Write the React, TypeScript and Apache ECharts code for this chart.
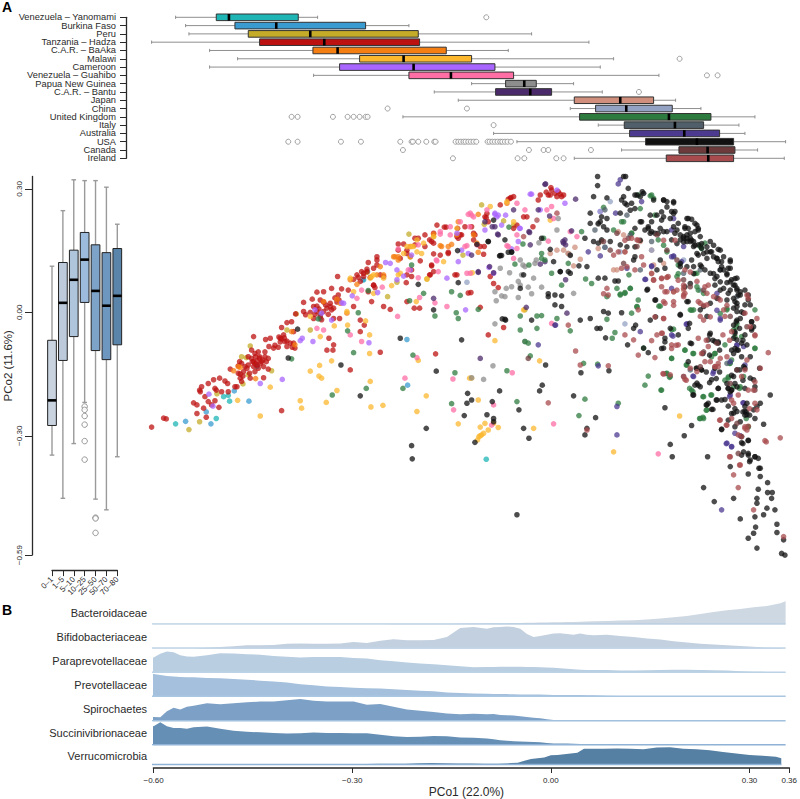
import React, { useEffect, useRef } from "react";
import * as echarts from "echarts";

// ---- Panel A, top: PCo1 by population: [low whisker, Q1, median, Q3, high whisker]
const populations = ["Venezuela – Yanomami","Burkina Faso","Peru","Tanzania – Hadza","C.A.R. – BaAka","Malawi","Cameroon","Venezuela – Guahibo","Papua New Guinea","C.A.R. – Bantu","Japan","China","United Kingdom","Italy","Australia","USA","Canada","Ireland"];
const popColors = ["#1fb5b5","#3a9bd0","#c4ab28","#bd1111","#f57e12","#fbb72e","#a965ff","#ff6ea5","#8d8d8d","#4b2a6b","#cf8f7c","#93a1c3","#2e7b3f","#505f6a","#4c3a90","#111111","#6d3a3c","#a84b4e"];
const popBoxes = [
  [-0.567,-0.506,-0.487,-0.383,-0.354],
  [-0.552,-0.478,-0.416,-0.282,-0.217],
  [-0.547,-0.458,-0.365,-0.203,-0.033],
  [-0.603,-0.441,-0.344,-0.201,0.053],
  [-0.516,-0.361,-0.324,-0.161,-0.068],
  [-0.474,-0.291,-0.225,-0.123,0.090],
  [-0.516,-0.321,-0.210,-0.088,0.070],
  [-0.360,-0.217,-0.154,-0.060,0.158],
  [-0.123,-0.072,-0.044,-0.026,0.030],
  [-0.179,-0.087,-0.035,-0.003,0.073],
  [-0.143,0.031,0.100,0.150,0.183],
  [0.025,0.063,0.109,0.178,0.221],
  [-0.226,0.039,0.173,0.236,0.302],
  [0.067,0.106,0.182,0.225,0.278],
  [-0.090,0.114,0.196,0.249,0.287],
  [-0.055,0.138,0.215,0.270,0.348],
  [0.102,0.188,0.231,0.272,0.306],
  [0.031,0.169,0.232,0.270,0.346],
];
const popOutliers = [
  [-0.101],[],[],[],[],[0.189],[],[0.230,0.246],[],[0.128],[],
  [-0.249,-0.130],
  [-0.393,-0.384,-0.331,-0.309,-0.300,-0.291,-0.282,-0.279],
  [-0.090],[],
  [-0.398,-0.384,-0.319,-0.289,-0.230,-0.213,-0.211,-0.203,-0.191,-0.179,-0.177,-0.147,-0.143,-0.139,-0.135,-0.132,-0.128,-0.124,-0.120,-0.116,-0.099,-0.096,-0.092,-0.088,-0.084,-0.080,-0.077,-0.073,-0.069,-0.064],
  [-0.226,-0.037,-0.015,-0.008,0.056],
  [-0.151,-0.054,-0.044,0.004,0.015],
];

// ---- Panel A, left: PCo2 by age
const ages = ["0–1","1–5","5–10","10–25","25–50","50–70","70–80"];
const ageColors = ["#c8d3df","#bccadb","#aec5dc","#9dbbdc","#7ea3c9","#6e97c0","#5a84a9"];
const ageBoxes = [
  [-0.347,-0.275,-0.214,-0.068,0.112],
  [-0.452,-0.117,0.023,0.121,0.247],
  [-0.319,-0.059,0.079,0.151,0.322],
  [-0.219,0.024,0.128,0.194,0.320],
  [-0.454,-0.093,0.052,0.164,0.320],
  [-0.480,-0.115,0.016,0.145,0.304],
  [-0.351,-0.079,0.040,0.155,0.214],
];
const ageOutliers = [[],[],[],[-0.229,-0.237,-0.252,-0.273,-0.313,-0.358],[-0.499,-0.501,-0.536],[],[]];
const yTicks = [-0.59,-0.3,0,0.3];

// ---- Panel A, centre: PCo1, PCo2 of each sample, in thousandths
const ptsYanomami = [[-567,-271],[-506,-258],[-486,-216],[-495,-205],[-488,-202],[-445,-132],[-350,-15],[-285,79],[-101,-357]];
const ptsBurkina = [[-552,-265],[-514,-271],[-521,-242],[-479,-191],[-457,-216],[-279,99],[-286,79],[-220,-66],[-219,-177],[-445,-130],[-350,-6]];
const ptsPeru = [[-547,-285],[-531,-266],[-505,-198],[-455,-82],[-468,-108],[-461,-110],[-466,-174],[-458,-152],[-423,-142],[-217,190],[-136,139],[-190,81],[-235,73],[-249,38],[-386,-4],[-400,-43],[-365,-43],[-280,97],[-215,135],[-180,184],[-108,261],[-75,222],[-60,212],[-104,214],[-43,6]];
const ptsHadza = [[-603,-279],[-585,-257],[-581,-259],[-540,-220],[-535,-225],[-525,-233],[-535,-246],[-521,-255],[-502,-231],[-508,-215],[-523,-205],[-518,-217],[-513,-225],[-531,-189],[-528,-181],[-530,-193],[-508,-185],[-506,-189],[-518,-173],[-510,-164],[-501,-160],[-493,-167],[-489,-173],[-498,-193],[-488,-193],[-478,-181],[-475,-181],[-485,-138],[-473,-148],[-470,-160],[-468,-168],[-471,-120],[-465,-144],[-460,-136],[-456,-148],[-448,-100],[-443,-96],[-433,-96],[-428,-112],[-450,-120],[-445,-128],[-438,-120],[-458,-128],[-453,-112],[-435,-132],[-441,-108],[-448,-144],[-435,-159],[-428,-138],[-450,-59],[-432,-66],[-425,-63],[-408,-239],[-413,-85],[-427,-83],[-420,-87],[-410,-63],[-405,-55],[-408,-37],[-400,-25],[-393,-23],[-390,-47],[-403,-71],[-400,-83],[-388,-87],[-390,-75],[-387,-4],[-375,24],[-362,32],[-355,49],[-345,50],[-324,87],[-375,2],[-372,-6],[-360,14],[-355,2],[-350,30],[-340,10],[-335,14],[-333,6],[-330,-15],[-321,-15],[-323,42],[-333,58],[-318,57],[-308,54],[-300,14],[-290,-19],[-284,-31],[-290,-47],[-337,-63],[-330,-79],[-340,-92],[-331,-92],[-260,-97],[-305,-140],[-177,-101],[-295,91],[-288,99],[-278,121],[-265,135],[-265,127],[-270,66],[-268,60],[-273,26],[-255,14],[-245,7],[-233,166],[-225,166],[-230,131],[-220,151],[-208,180],[-203,180],[-193,188],[-180,192],[-186,176],[-180,168],[-180,142],[-200,125],[-213,87],[-221,72],[-220,26],[-209,10],[-201,10],[-183,113],[-186,91],[-180,99],[-164,207],[-161,207],[-158,146],[-148,91],[-144,204],[-133,208],[-145,184],[-138,188],[-128,47],
  [-468,-124],[-463,-132],[-458,-108],[-453,-92],[-447,-108],[-441,-112],[-433,-108],[-431,-120],[-443,-136],[-450,-132],[-455,-160],[-473,-130],[-466,-155],[-470,-150],[-445,-118],[-440,-125],[-436,-116],[-448,-125],[-452,-120],
  [-365,0],[-358,-5],[-352,8],[-350,-10],[-345,2],[-342,18],[-338,-5],[-335,22],[-330,10],[-325,25],[-345,25],[-355,15],[-348,-18],[-360,-15],[-328,35],[-322,30],
  [-412,-60],[-408,-65],[-404,-62],[-410,-72],[-400,-70],[-395,-75],[-392,-85],[-418,-80],[-300,80],[-293,85],[-290,75],[-285,95],[-280,105],[-275,85],
  [-110,160],[-104,160],[-105,141],[-124,48],[-110,12],[-95,87],[-90,70],[-83,60],[-123,208],[-118,188],[-140,188],[-68,275],[-64,279],[-80,261],[-100,240],[-101,230],[-31,208],[-23,273],[-8,285],[-3,297],[-4,303],[5,281],[10,287],[15,285],[-11,292],[2,289],[-75,-37],[-98,-55],[-45,232],[-40,232],[-55,212],[-60,204],[-175,212],
  [-233,151],[-220,143],[-208,164],[-193,160],[-183,172],[-170,139],[-158,143],[-143,180],[-120,192],[-103,232],[-98,220],[-120,176],[-260,91],[-255,87],[-270,107],[-265,115],[-285,87],[-280,99],[-270,66],[-278,50],[-220,91],[-213,103],[-183,115],[-185,91],[-145,91],[-65,277],[-60,281],[-20,285],[-5,285],[7,293],[12,281]];
const ptsBaAka = [[-480,-142],[-470,-134],[-447,-161],[-345,26],[-325,32],[-295,68],[-305,79],[-255,91],[-168,160],[-143,220],[-388,-79],[-393,-47],[-310,-2],[-473,-132],[-320,22],[-233,135],[-240,135],[-158,160],[-153,165],[-180,190],[-260,111],[-215,135],[-113,238],[-70,265],[-115,168],[-120,188],[-113,146],[-238,135],[-233,127],[-215,160],[-170,162],[-145,188],[-265,91]];
const ptsMalawi = [[-474,-214],[-440,-252],[-425,-182],[-380,-215],[-378,-233],[-341,-219],[-325,-190],[-365,-143],[-351,-129],[-333,-118],[-352,-155],[-348,-160],[-275,-168],[-274,-230],[-256,-226],[-191,-203],[-205,-241],[-143,-271],[-276,-55],[-276,-100],[-203,-117],[-350,-59],[-329,-33],[-309,-31],[-282,-21],[-206,26],[-165,123],[-255,83],[-243,65],[-275,83],[-270,91],[-305,83],[-300,50],[-270,46],[-365,-10],[-310,2],[-233,91],[-230,95],[-225,143],[-210,160],[-205,176],[-198,143],[-195,168],[-180,184],[-126,-160],[-110,-279],[-103,-270],[-98,-286],[-83,-280],[-105,-294],[-110,-300],[-114,-310],[-108,-298],[-112,-302],[-90,-270],[-113,-213],[-123,-160],[-30,-282],[90,-339],[189,-252],[-21,-118],[-88,-69],[-122,96],[-95,257],[-70,269],[-5,224],[-60,220],[-45,6],[-145,204],[-273,87],[-213,160],[-205,147],[-220,160],[-190,81]];
const ptsCameroon = [[-511,-228],[-517,-199],[-440,-173],[-407,-163],[-277,-74],[-361,-71],[-380,-69],[-377,-63],[-358,6],[-348,-2],[-333,-19],[-318,23],[-315,22],[-235,79],[-225,88],[-264,48],[-302,40],[-252,121],[-245,119],[-235,103],[-215,103],[-160,83],[-132,6],[-143,123],[-138,151],[-128,143],[-145,192],[-88,238],[-83,236],[-103,200],[-78,212],[-72,236],[-50,204],[-63,154],[-53,172],[-97,109],[-90,95],[-33,287],[-20,249],[5,297],[17,265],[-35,287],[-51,204],[-88,241],[-85,232],[70,245],[-213,139]];
const ptsGuahibo = [[-288,-71],[-305,-55],[-234,-10],[-223,-160],[-151,-162],[-150,-237],[-205,-110],[-201,36],[-178,23],[-160,14],[-203,84],[-257,61],[-233,154],[-218,103],[-173,99],[-175,125],[-130,95],[-128,238],[-140,220],[-155,208],[-170,190],[-288,54],[-295,34],[-355,-39],[-345,-43],[-125,241],[-120,232],[-55,265],[-43,249],[-130,162],[-125,95],[-70,162],[-60,131],[-115,164],[-3,-27],[0,228],[-10,249],[-62,-147],[-90,-225],[-93,-274],[0,-271],[157,-344],[-68,160],[-55,155],[-8,173],[35,184],[25,196],[-203,164],[-170,196],[-155,188],[-133,160],[-123,236],[-100,249],[-126,208],[-55,188],[-3,257],[-176,127]];
const ptsPNG = [[-46,115],[-28,119],[-26,127],[-53,75],[-48,91],[-50,66],[-63,62],[-71,58],[-73,38],[-78,40],[-86,28],[-53,36],[-66,96],[-80,107],[-38,61],[-33,45],[-18,61],[30,46],[5,200],[-22,169],[22,143],[7,228],[-88,-28],[-91,-130],[-123,-159],[-105,-163],[-43,-71],[25,138],[-50,127],[-43,111],[-30,83],[-88,50],[67,214]];
const ptsBantu = [[-12,312],[-110,-112],[33,275],[17,176],[15,168],[27,198],[18,79],[-23,249],[-37,196],[-96,111],[-83,188],[-113,99],[-103,220],[-88,208],[-123,139],[-35,164],[-41,12],[20,-2],[2,-31],[-180,34],[-84,190],[-13,311],[-92,208],[-60,249],[-36,194],[-6,234],[-113,97],[-90,96],[-20,117],[-13,123],[14,172],[18,164]];
const ptsJapan = [[147,95],[170,85],[180,50],[195,54],[40,129],[30,113],[32,158],[15,151],[5,151],[-5,143],[72,172],[105,188],[97,196],[130,172],[67,155],[90,103],[22,143],[147,151],[165,119],[150,115],[107,147],[95,103]];
const ptsChina = [[107,-28],[77,158],[147,151],[195,127],[135,289],[220,54],[100,147],[70,245],[85,269],[-130,73]];
const ptsUK = [[-332,-201],[-300,-98],[-393,-113],[-293,-1],[-309,-45],[-278,53],[-216,28],[-195,46],[-211,-104],[-281,-185],[-226,-185],[-178,-9],[-146,-1],[-143,-15],[-153,50],[-140,41],[-148,-147],[-153,-222],[-353,-16],[-213,115],[-113,7],[-67,207],[-46,166],[-58,117],[-37,115],[-18,143],[-15,180],[-3,95],[12,66],[-18,131],[-13,127],[22,119],[42,196],[48,81],[57,70],[80,38],[95,58],[100,44],[107,48],[115,58],[125,14],[117,-2],[80,-17],[5,-15],[-18,-8],[-25,-9],[-50,-9],[-50,-43],[-25,-39],[-43,-71],[-38,-75],[-35,-106],[-70,-142],[25,-45],[92,-49],[88,-63],[45,-124],[66,-126],[-55,-217],[47,-211],[38,-251],[97,-221],[142,-155],[137,-177],[161,-189],[170,-148],[175,-156],[75,255],[90,200],[105,220],[117,192],[127,285],[145,283],[150,277],[113,91],[158,15],[135,-87],[177,-112],[180,-41],[197,-92],[210,-100],[200,-128],[207,-189],[225,-205],[237,-201],[230,-237],[220,-258],[225,-258],[257,-79],[242,-100],[215,95],[205,6],[210,6],[225,46],[260,6],[275,-27],[282,-59],[302,6],[302,-87],[265,-124],[262,-160],[270,-181],[280,-181],[292,-278],[185,87],[190,119],[157,176],[220,160],[227,168],[270,-43],[285,-156],
  [102,220],[117,192],[130,252],[147,285],[165,163],[170,147],[187,115],[187,94],[222,155],[220,163],[212,94],[217,54],[115,58],[107,46],[100,42],[127,30],[125,13],[160,15],[207,5],[152,236],[250,-3],[260,9],[215,62],
  [177,-42],[197,-92],[209,-100],[177,-112],[199,-128],[169,-149],[174,-158],[162,-189],[204,-185],[209,-193],[224,-205],[236,-201],[229,-238],[219,-258],[224,-255],[274,-35],[272,-59],[242,-100],[237,-108],[264,-124],[267,-116],[262,-157],[257,-165],[279,-185],[302,-88],[292,-278],[289,-258]];
const ptsItaly = [[77,158],[110,236],[147,172],[180,135],[195,95],[220,103],[250,103],[275,38],[195,-156],[205,-140],[260,-124],[130,103],[62,200],[77,249],[115,188]];
const ptsAustralia = [[210,-156],[265,-201],[285,-220],[272,-294],[280,-300],[260,-318],[267,-326],[252,-480],[95,-298],[95,-229],[-23,-79],[3,-31],[67,-130],[130,-47],[138,80],[147,113],[200,-28],[240,-144],[265,-120],[250,-19],[275,-79],[180,228],[132,269],[110,107],[195,160],[180,137],[52,147],[70,137],[93,241],[100,322],[97,312],[177,-55],[285,-83],[245,46],[147,111],[137,80],[177,200],[177,58],[192,123],[177,135],[245,5],[250,-15],[209,-155],[199,-29],[179,-58],[275,-80],[264,-205],[284,-220],[259,-319],[267,-327],[239,-149],[287,-128]];
const ptsUSA = [[66,330],[66,308],[60,281],[80,278],[105,330],[108,330],[105,281],[112,301],[122,285],[107,265],[117,265],[130,281],[133,293],[165,273],[170,269],[180,266],[177,245],[182,245],[200,228],[207,226],[202,204],[215,212],[197,208],[212,196],[217,200],[55,241],[72,232],[70,220],[80,228],[100,241],[75,208],[80,200],[55,216],[67,216],[47,180],[60,172],[72,176],[67,168],[85,172],[100,164],[122,204],[132,220],[147,220],[142,204],[145,192],[152,192],[160,204],[165,196],[162,224],[180,208],[185,200],[177,176],[190,176],[195,184],[200,172],[205,172],[210,160],[215,143],[225,143],[235,172],[237,147],[247,153],[245,131],[255,135],[252,111],[265,127],[265,107],[275,83],[270,66],[260,72],[275,58],[280,50],[262,46],[250,54],[242,66],[245,87],[235,95],[222,111],[210,111],[200,111],[190,111],[275,22],[270,10],[292,30],[295,18],[297,-23],[300,-35],[297,-43],[285,-2],[275,-19],[270,-31],[272,-51],[275,-67],[275,-92],[270,-100],[290,-79],[295,-108],[275,-140],[270,-156],[262,-185],[265,-193],[275,-181],[300,-164],[290,-221],[287,-241],[290,-249],[305,-229],[310,-221],[300,-237],[302,-258],[315,-272],[325,-201],[275,-241],[270,-245],[280,-266],[272,-278],[252,-284],[245,-213],[237,-236],[230,-225],[210,-201],[167,-232],[207,-275],[196,-300],[175,-321],[178,-351],[231,-351],[282,-317],[292,-312],[285,-339],[292,-347],[295,-359],[302,-351],[308,-379],[310,-399],[292,-393],[321,-414],[321,-438],[328,-438],[307,-430],[225,-426],[241,-460],[270,-452],[280,-502],[305,-452],[305,-464],[302,-497],[315,-492],[320,-476],[327,-452],[332,-480],[335,-515],[303,-522],[300,-537],[292,-549],[305,-573],[335,-535],[345,-553],[342,-586],[347,-590],
  [-81,137],[-78,138],[-98,172],[-73,176],[-63,147],[-18,180],[-5,153],[0,123],[25,95],[22,99],[10,99],[2,42],[12,40],[-8,38],[2,18],[12,14],[-8,45],[-33,-19],[-73,-17],[-77,-16],[40,-19],[55,-15],[70,-39],[65,-39],[78,-62],[75,2],[82,-2],[102,-1],[120,-39],[123,-31],[111,-79],[135,-87],[142,-98],[165,-87],[175,-39],[153,-11],[145,-19],[167,-63],[190,-5],[205,-75],[202,-120],[215,-136],[222,-140],[215,-172],[220,-181],[237,-164],[247,-185],[205,70],[200,26],[220,6],[230,-10],[242,-71],[247,-75],[235,-51],[232,-67],[153,30],[140,54],[97,76],[92,76],[77,83],[67,83],[50,111],[38,113],[25,139],[41,-147],[83,-142],[-17,-177],[-21,-191],[-12,-128],[-81,-191],[-92,-217],[-52,-237],[-45,-282],[-37,-306],[-55,-492],[30,-203],[63,-256],[50,-282],[47,-298],[-123,-213],[-90,-258],[-90,-266],[-100,-249],[-118,-316],
  [-384,-41],[-398,-111],[-319,-128],[-290,-203],[-203,68],[-144,150],[-143,72],[-180,6],[-138,-67],[-230,-63],[-176,-143],[-134,-251],[-191,-282],[-213,-324],[-212,-356],[-129,-197],[-130,-221],
  [-115,165],[-98,172],[-80,138],[-68,146],[-63,146],[-90,224],[10,99],[-45,91],[-50,58],[-72,-19],
  [195,180],[200,188],[205,180],[210,172],[217,164],[222,156],[230,147],[240,135],[247,123],[255,103],[260,91],[267,79],[272,66],[277,42],[272,26],[275,2],[280,-15],[270,-63],[282,-75],[267,-92],[260,-173],[267,-189],[272,-173],[285,-132],[295,-160],[287,-229],
  [202,228],[212,216],[217,204],[197,204],[187,216],[205,192],[190,188],[180,240],[175,228],[162,244],[165,232],[155,236],[145,236],[142,208],[147,196],[137,200],[157,192],[170,196],[182,192],[200,180],[207,175],[220,184],[195,171],[185,167],[212,163],[222,167],[230,159],[240,163],[235,147],[250,151],[245,131],[252,123],[265,123],[262,107],[230,131],[217,139],[207,127],[220,115],[227,103],[240,94],[250,103],[260,94],[242,82],[250,74],[265,74],[272,82],[275,54],[265,54],[255,58],[280,42],[287,54],[292,42],[270,34],[260,30],[287,18],[275,14],[282,1],[245,34],[235,22],[225,14],[130,220],[110,261],[115,248],[122,252],[150,273],[165,273],[170,256],[180,269],[125,285],[135,289],[102,273],[160,127],[167,107],[155,103],[122,135],[120,127],[110,159],[122,159],[130,175],[202,26],[190,-7],[152,30],[141,56],[197,62],[210,94],[190,119],
  [274,-23],[279,-39],[272,-47],[287,-55],[297,-39],[297,-23],[167,-72],[162,-88],[187,-55],[204,-27],[202,-39],[234,-55],[239,-68],[207,-76],[247,-72],[249,-92],[272,-88],[284,-68],[277,-92],[282,-108],[224,-100],[234,-104],[214,-136],[222,-140],[229,-145],[242,-136],[249,-145],[267,-153],[279,-140],[287,-136],[309,-136],[234,-171],[244,-161],[212,-177],[217,-177],[209,-201],[247,-185],[262,-185],[267,-189],[284,-165],[302,-181],[287,-185],[244,-213],[252,-213],[257,-212],[232,-221],[229,-225],[239,-236],[262,-228],[272,-234],[267,-246],[284,-242],[289,-242],[294,-250],[287,-250],[262,-262],[252,-285],[282,-302],[292,-311],[284,-319],[282,-347],[292,-343],[302,-351],[294,-363],[307,-355],[265,-375],[310,-379]];
const ptsCanada = [[85,151],[105,119],[185,127],[195,79],[205,62],[225,54],[247,34],[265,-10],[290,-35],[245,-75],[225,-96],[220,-132],[265,-173],[275,-140],[302,-189],[275,-270],[277,-343],[155,188],[170,151],[125,160],[112,180],[-38,-112],[75,172],[95,192]];
const ptsIreland = [[185,54],[172,87],[195,66],[215,75],[227,62],[232,66],[220,22],[230,18],[255,6],[257,-10],[290,42],[292,34],[287,-2],[305,-15],[302,-57],[322,-98],[290,-116],[287,-140],[310,-136],[300,-189],[282,-156],[247,-132],[242,-132],[235,-120],[232,-83],[215,-144],[205,-136],[195,-156],[175,-152],[165,-150],[250,-262],[260,-274],[267,-258],[287,-278],[265,-351],[280,-371],[277,-426],[340,-305],[317,-312],[300,-480],[345,-545],[270,-395],[50,-286],[-45,184],[-25,224],[5,241],[90,139],[97,147],[125,176],[127,6],[170,50],[180,26],[167,22],[150,79],[162,83],[107,-55],[120,-67],[127,-104],[152,-110],[163,-51],[177,-79],[187,-79],[147,-69],[155,-55],[33,-94],[82,-130],[40,-128],[-8,-220],[22,-31],[75,45],[82,42],[80,58],[225,-19],[220,-10],[197,46],[195,38],[165,-15],[240,38],[250,30],[267,-47],[295,-35],[260,-108],[250,-112],[227,-120],[292,-189],[270,-221],[305,-237],[290,-286],[282,-302],
  [107,175],[127,175],[107,147],[132,135],[110,111],[102,107],[122,103],[147,94],[150,78],[162,82],[170,85],[187,78],[162,62],[167,50],[180,50],[165,26],[180,17],[195,58],[195,42],[230,46],[225,17],[217,26],[165,-15],[152,-11],[135,115],[165,175],[182,175],[117,180],[197,103],[205,98],[235,-11],[260,17],
  [162,-51],[177,-88],[184,-80],[217,-63],[229,-68],[254,-55],[264,-68],[302,-55],[222,-100],[242,-132],[247,-124],[199,-165],[164,-149],[197,-163],[267,-213],[277,-201],[302,-169],[302,-221],[294,-234],[249,-262],[259,-274],[287,-282],[292,-277],[277,-298],[319,-315],[264,-351],[279,-371]];
const scatterGroups = [ptsYanomami,ptsBurkina,ptsPeru,ptsHadza,ptsBaAka,ptsMalawi,ptsCameroon,ptsGuahibo,ptsPNG,ptsBantu,ptsJapan,ptsChina,ptsUK,ptsItaly,ptsAustralia,ptsUSA,ptsCanada,ptsIreland];

// ---- Panel B: relative abundance along PCo1 (fraction of each strip's height)
const areaX = [-0.603,-0.6,-0.59,-0.58,-0.57,-0.56,-0.55,-0.54,-0.52,-0.5,-0.48,-0.46,-0.44,-0.42,-0.4,-0.38,-0.36,-0.34,-0.32,-0.3,-0.28,-0.26,-0.24,-0.22,-0.2,-0.18,-0.16,-0.14,-0.12,-0.1,-0.09,-0.08,-0.07,-0.06,-0.05,-0.04,-0.03,-0.02,-0.01,0,0.01,0.02,0.03,0.04,0.05,0.06,0.08,0.1,0.12,0.14,0.16,0.18,0.2,0.22,0.24,0.26,0.28,0.3,0.32,0.34,0.348];
const taxa = ["Bacteroidaceae","Bifidobacteriaceae","Paraprevotellaceae","Prevotellaceae","Spirochaetes","Succinivibrionaceae","Verrucomicrobia"];
const taxaColors = ["#ced8e2","#c2d0df","#b9cee0","#a4c0dc","#7da1c6","#668fb5","#557fa3"];
const stripColors = ["#b8cfe3","#c0d4e6","#bcd2e6","#a9c6e2","#a2c1df","#8fb3d6","#8fb3d6"];
const abBacteroidaceae = [0.01,0.01,0.01,0.01,0.01,0.01,0.01,0.01,0.01,0.01,0.01,0.01,0.01,0.01,0.01,0.01,0.01,0.01,0.01,0.01,0.01,0.01,0.02,0.02,0.02,0.03,0.03,0.04,0.05,0.06,0.06,0.06,0.06,0.07,0.07,0.08,0.08,0.09,0.09,0.1,0.1,0.11,0.11,0.12,0.13,0.14,0.15,0.17,0.18,0.21,0.25,0.31,0.36,0.44,0.53,0.6,0.65,0.72,0.78,0.89,0.97];
const abBifidobacteriaceae = [0.01,0.01,0.01,0.01,0.01,0.01,0.01,0.01,0.04,0.07,0.1,0.14,0.14,0.15,0.21,0.22,0.21,0.21,0.22,0.28,0.24,0.33,0.39,0.35,0.35,0.36,0.49,0.86,0.9,0.83,0.89,0.9,0.93,0.9,0.83,0.61,0.49,0.53,0.58,0.63,0.64,0.61,0.58,0.63,0.58,0.56,0.58,0.53,0.49,0.43,0.38,0.31,0.26,0.21,0.17,0.14,0.11,0.08,0.04,0.03,0.01];
const abParaprevotellaceae = [0.65,0.65,0.8,0.9,0.86,0.74,0.69,0.68,0.74,0.82,0.81,0.78,0.76,0.71,0.68,0.65,0.67,0.67,0.67,0.63,0.6,0.53,0.49,0.44,0.4,0.36,0.32,0.28,0.24,0.25,0.25,0.26,0.26,0.26,0.26,0.25,0.25,0.24,0.23,0.22,0.2,0.18,0.16,0.14,0.13,0.125,0.125,0.1,0.1,0.11,0.125,0.14,0.14,0.125,0.11,0.1,0.07,0.055,0.045,0.03,0.02];
const abPrevotellaceae = [0.94,0.96,0.92,0.875,0.85,0.83,0.82,0.82,0.79,0.78,0.75,0.72,0.68,0.65,0.6,0.53,0.49,0.44,0.42,0.39,0.36,0.35,0.32,0.29,0.26,0.24,0.19,0.17,0.15,0.14,0.13,0.125,0.12,0.11,0.1,0.1,0.1,0.1,0.09,0.08,0.08,0.08,0.08,0.08,0.07,0.07,0.055,0.04,0.03,0.02,0.02,0.01,0.01,0.01,0.01,0.01,0.01,0.01,0.01,0.01,0.01];
const abSpirochaetes = [0.18,0.18,0.17,0.42,0.56,0.49,0.61,0.65,0.75,0.71,0.75,0.79,0.82,0.82,0.875,0.93,0.86,0.83,0.82,0.82,0.69,0.72,0.61,0.49,0.44,0.39,0.33,0.29,0.31,0.29,0.3,0.26,0.25,0.24,0.21,0.18,0.15,0.125,0.09,0.055,0.05,0.045,0.03,0.02,0.02,0.01,0.01,0.01,0.01,0.01,0.01,0.01,0.01,0.01,0.01,0.01,0.01,0.01,0.01,0.01,0.01];
const abSuccinivibrionaceae = [0.83,0.79,0.96,0.79,0.72,0.72,0.69,0.75,0.78,0.69,0.61,0.56,0.54,0.51,0.49,0.5,0.53,0.51,0.51,0.5,0.5,0.44,0.375,0.35,0.36,0.39,0.375,0.33,0.31,0.28,0.25,0.21,0.19,0.17,0.16,0.15,0.14,0.125,0.1,0.08,0.075,0.07,0.06,0.055,0.05,0.05,0.03,0.02,0.01,0.01,0.01,0.01,0.01,0.01,0.01,0.01,0.01,0.01,0.01,0.01,0.01];
const abVerrucomicrobia = [0.01,0.01,0.01,0.01,0.01,0.01,0.01,0.01,0.01,0.01,0.01,0.01,0.01,0.01,0.01,0.01,0.02,0.02,0.02,0.03,0.05,0.06,0.06,0.07,0.09,0.1,0.09,0.08,0.08,0.07,0.07,0.07,0.08,0.1,0.12,0.22,0.32,0.36,0.4,0.51,0.53,0.57,0.61,0.64,0.85,0.85,0.86,0.875,0.85,0.83,0.92,0.93,0.85,0.83,0.78,0.68,0.6,0.53,0.49,0.43,0.35];
const taxaValues = [abBacteroidaceae,abBifidobacteriaceae,abParaprevotellaceae,abPrevotellaceae,abSpirochaetes,abSuccinivibrionaceae,abVerrucomicrobia];
const stripBaselines = [624.6,648.7,673,697,721.3,745.3,770];

const INK = "#2a2a2a";
const XMIN = -0.6;
const XMAX = 0.36;
const GRID_L = 153.6;
const GRID_W = 640;
const fmt = (v: number) => (v < 0 ? "−" : "") + Math.abs(v).toFixed(2);

function topBox(params: any, api: any) {
  const cat = api.value(0);
  const [wl, q1, med, q3, wh] = [api.value(1), api.value(2), api.value(3), api.value(4), api.value(5)];
  const y = api.coord([0, cat])[1];
  const px = (v: number) => api.coord([v, cat])[0];
  const h = 6.6;
  const wStyle = { stroke: "#8f8f8f", lineWidth: 1 };
  return {
    type: "group",
    children: [
      { type: "line", shape: { x1: px(wl), y1: y, x2: px(q1), y2: y }, style: wStyle },
      { type: "line", shape: { x1: px(q3), y1: y, x2: px(wh), y2: y }, style: wStyle },
      { type: "line", shape: { x1: px(wl), y1: y - 1.6, x2: px(wl), y2: y + 1.6 }, style: wStyle },
      { type: "line", shape: { x1: px(wh), y1: y - 1.6, x2: px(wh), y2: y + 1.6 }, style: wStyle },
      { type: "rect", shape: { x: px(q1), y: y - h / 2, width: px(q3) - px(q1), height: h }, style: { fill: popColors[cat], stroke: "#333", lineWidth: 1 } },
      { type: "line", shape: { x1: px(med), y1: y - h / 2, x2: px(med), y2: y + h / 2 }, style: { stroke: "#000", lineWidth: 2.6 } },
    ],
  };
}

function ageBox(params: any, api: any) {
  const cat = api.value(0);
  const [wl, q1, med, q3, wh] = [api.value(1), api.value(2), api.value(3), api.value(4), api.value(5)];
  const x = api.coord([cat, 0])[0];
  const step = api.coord([1, 0])[0] - api.coord([0, 0])[0];
  const w = step * 0.8;
  const py = (v: number) => api.coord([cat, v])[1];
  const wStyle = { stroke: "#9a9a9a", lineWidth: 1.4 };
  return {
    type: "group",
    children: [
      { type: "line", shape: { x1: x, y1: py(wl), x2: x, y2: py(q1) }, style: wStyle },
      { type: "line", shape: { x1: x, y1: py(q3), x2: x, y2: py(wh) }, style: wStyle },
      { type: "line", shape: { x1: x - 2.3, y1: py(wl), x2: x + 2.3, y2: py(wl) }, style: wStyle },
      { type: "line", shape: { x1: x - 2.3, y1: py(wh), x2: x + 2.3, y2: py(wh) }, style: wStyle },
      { type: "rect", shape: { x: x - w / 2, y: py(q3), width: w, height: py(q1) - py(q3) }, style: { fill: ageColors[cat], stroke: "#222", lineWidth: 1 } },
      { type: "line", shape: { x1: x - w / 2, y1: py(med), x2: x + w / 2, y2: py(med) }, style: { stroke: "#000", lineWidth: 2.6 } },
    ],
  };
}

function buildOption() {
  const grid: any[] = [
    { left: GRID_L, width: GRID_W, top: 17.3, height: 141 },
    { left: GRID_L, width: GRID_W, top: 176.5, height: 378.6 },
    { left: 52, width: 65.3, top: 176.5, height: 378.6 },
    ...stripBaselines.map((b) => ({ left: GRID_L, width: GRID_W, top: b - 24, height: 24 })),
  ];
  const plainX = (gridIndex: number) => ({ type: "value", gridIndex, min: XMIN, max: XMAX, show: false });
  const xAxis: any[] = [
    plainX(0),
    plainX(1),
    {
      type: "category", gridIndex: 2, data: ages, boundaryGap: false, offset: 15,
      axisLine: { onZero: false, lineStyle: { color: INK, width: 1.3 } },
      axisTick: { show: true, length: 6, lineStyle: { color: INK, width: 1 } },
      axisLabel: { rotate: 45, fontSize: 8, color: INK, fontFamily: "Liberation Sans", interval: 0, margin: 8, hideOverlap: false },
    },
    ...taxa.map((_, i) =>
      i < taxa.length - 1
        ? plainX(i + 3)
        : {
            type: "value", gridIndex: i + 3, min: XMIN, max: XMAX, interval: 0.3, offset: 3,
            axisLine: { onZero: false, lineStyle: { color: "#5c5c5c", width: 2 } },
            axisTick: { show: true, length: 5, lineStyle: { color: INK, width: 1 } },
            axisLabel: { formatter: (v: number) => fmt(v), fontSize: 8, color: INK, fontFamily: "Liberation Sans", margin: 8, showMinLabel: true, showMaxLabel: true },
            splitLine: { show: false },
            name: "PCo1 (22.0%)", nameLocation: "middle", nameGap: 18,
            nameTextStyle: { fontSize: 12, color: INK, fontFamily: "Liberation Sans", padding: [0, 10, 0, 0] },
          }
    ),
  ];
  const yAxis: any[] = [
    {
      type: "category", gridIndex: 0, data: populations, inverse: true, boundaryGap: false, offset: 27.6,
      axisLine: { onZero: false, lineStyle: { color: INK, width: 1.3 } },
      axisTick: { show: true, length: 6, lineStyle: { color: INK, width: 1 } },
      axisLabel: { fontSize: 9.3, color: INK, fontFamily: "Liberation Sans", interval: 0, margin: 10, lineHeight: 8 },
    },
    { type: "value", gridIndex: 1, min: -0.59, max: 0.33, show: false },
    {
      type: "value", gridIndex: 2, min: -0.59, max: 0.33, offset: 20,
      axisLine: { show: true, onZero: false, lineStyle: { color: INK, width: 1.3 } },
      axisTick: { show: true, length: 7, lineStyle: { color: INK, width: 1 }, customValues: yTicks },
      axisLabel: { rotate: 90, fontSize: 8, color: INK, fontFamily: "Liberation Sans", margin: 9, formatter: (v: number) => fmt(v), customValues: yTicks },
      splitLine: { show: false },
      name: "PCo2 (11.6%)", nameLocation: "middle", nameGap: 12, nameRotate: 90,
      nameTextStyle: { fontSize: 11.5, color: INK, fontFamily: "Liberation Sans" },
    },
    ...taxa.map((t, i) => ({
      type: "value", gridIndex: i + 3, min: 0, max: 1,
      axisLine: { show: false }, axisTick: { show: false }, axisLabel: { show: false }, splitLine: { show: false },
      name: t, nameLocation: "middle", nameRotate: 0, nameGap: 6.5,
      nameTextStyle: { fontSize: 11, color: INK, fontFamily: "Liberation Sans", align: "right", verticalAlign: "middle", padding: [3, 0, 0, 0] },
    })),
  ];

  const series: any[] = [];
  series.push({
    type: "custom", name: "population boxes", xAxisIndex: 0, yAxisIndex: 0, renderItem: topBox,
    encode: { x: [1, 2, 3, 4, 5], y: 0 },
    data: popBoxes.map((b, i) => [i, ...b]),
  });
  series.push({
    type: "scatter", name: "population outliers", xAxisIndex: 0, yAxisIndex: 0, symbolSize: 5, clip: false,
    itemStyle: { color: "#fff", borderColor: "#8a8a8a", borderWidth: 1 },
    data: popOutliers.flatMap((list, i) => list.map((v) => [v, i])),
  });
  scatterGroups.forEach((pts, i) => {
    series.push({
      type: "scatter", name: populations[i], xAxisIndex: 1, yAxisIndex: 1, symbolSize: 5.6, clip: false,
      itemStyle: { color: popColors[i], opacity: 0.75 },
      data: pts.map(([x, y]) => [x / 1000, y / 1000]),
    });
  });
  series.push({
    type: "custom", name: "age boxes", xAxisIndex: 2, yAxisIndex: 2, renderItem: ageBox,
    encode: { x: 0, y: [1, 2, 3, 4, 5] },
    data: ageBoxes.map((b, i) => [i, ...b]),
  });
  series.push({
    type: "scatter", name: "age outliers", xAxisIndex: 2, yAxisIndex: 2, symbolSize: 5.5, clip: false,
    itemStyle: { color: "#fff", borderColor: "#7f7f7f", borderWidth: 1 },
    data: ageOutliers.flatMap((list, i) => list.map((v) => [i, v])),
  });
  taxa.forEach((t, i) => {
    series.push({
      type: "line", name: t + " baseline", xAxisIndex: i + 3, yAxisIndex: i + 3, showSymbol: false, clip: false, silent: true,
      lineStyle: { color: stripColors[i], width: 1.4 },
      data: [[areaX[0], 0.03], [areaX[areaX.length - 1], 0.03]],
    });
    series.push({
      type: "line", name: t, xAxisIndex: i + 3, yAxisIndex: i + 3, showSymbol: false, clip: false, silent: true, z: 3,
      lineStyle: { width: 0 },
      areaStyle: { color: taxaColors[i], opacity: 1 },
      data: areaX.map((x, k) => [x, taxaValues[i][k]]),
    });
  });

  return {
    animation: false,
    backgroundColor: "#fff",
    grid, xAxis, yAxis, series,
    graphic: [
      { type: "text", left: 2, top: 0, style: { text: "A", fontSize: 14, fontWeight: "bold", fontFamily: "Liberation Sans", fill: "#000" } },
      { type: "text", left: 2, top: 603, style: { text: "B", fontSize: 14, fontWeight: "bold", fontFamily: "Liberation Sans", fill: "#000" } },
    ],
  };
}

export default function App() {
  const ref = useRef<HTMLDivElement>(null);
  useEffect(() => {
    document.body.style.margin = "0";
    const chart = echarts.init(ref.current!, null, { renderer: "svg" });
    chart.setOption(buildOption() as any);
    return () => chart.dispose();
  }, []);
  return <div ref={ref} style={{ width: 800, height: 799 }} />;
}
